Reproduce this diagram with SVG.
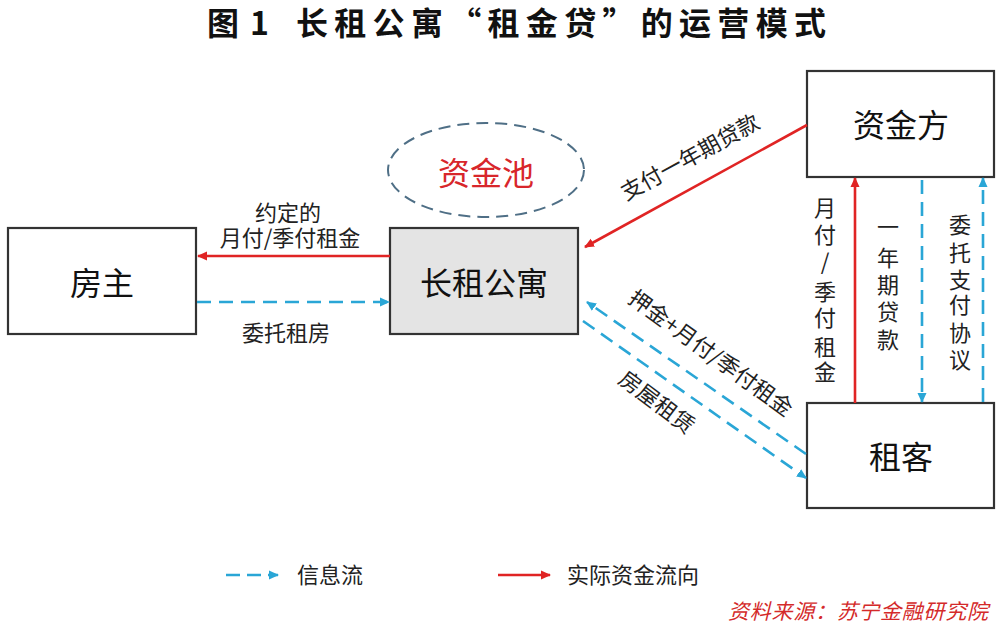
<svg xmlns="http://www.w3.org/2000/svg" width="1000" height="632" viewBox="0 0 1000 632">
<style>
.box{fill:#ffffff;stroke:#333333;stroke-width:2.2}
.gray{fill:#e4e4e4}
.nt{font-family:"Noto Sans CJK SC","Noto Sans CJK JP",sans-serif;font-size:32px;fill:#111;text-anchor:middle;dominant-baseline:central}
.lb{font-family:"Noto Sans CJK SC","Noto Sans CJK JP",sans-serif;font-size:22px;fill:#222;text-anchor:middle}
.red{stroke:#e02424;stroke-width:2.6;fill:none}
.blue{stroke:#2aa6d6;stroke-width:2.6;fill:none;stroke-dasharray:14 8}
</style>
<defs>
<marker id="ar" viewBox="0 0 10 10" refX="9" refY="5" markerWidth="10" markerHeight="10" markerUnits="userSpaceOnUse" orient="auto"><path d="M0,0.5 L10,5 L0,9.5 Z" fill="#e02424"/></marker>
<marker id="ab" viewBox="0 0 10 10" refX="9" refY="5" markerWidth="10" markerHeight="10" markerUnits="userSpaceOnUse" orient="auto"><path d="M0,0.5 L10,5 L0,9.5 Z" fill="#2aa6d6"/></marker>
</defs>
<rect width="1000" height="632" fill="#ffffff"/>
<g id="title" font-family="'Noto Sans CJK SC','Noto Sans CJK JP',sans-serif" font-size="32" font-weight="bold" fill="#111">
<text x="207" y="35">图<tspan x="250">1</tspan></text>
<text x="296" y="35" textLength="530" lengthAdjust="spacing">长租公寓“租金贷”的运营模式</text>
</g>
<g id="pool">
<ellipse cx="486" cy="170" rx="98" ry="47" fill="none" stroke="#4f6f86" stroke-width="2" stroke-dasharray="12 7"/>
<text x="486" y="171" class="nt" style="fill:#d8262b">资金池</text>
</g>
<g id="fangzhu"><rect class="box" x="8" y="228" width="188" height="106"/><text class="nt" x="102" y="281">房主</text></g>
<g id="gongyu"><rect class="box gray" x="390" y="228" width="188" height="106"/><text class="nt" x="484" y="281">长租公寓</text></g>
<g id="zijinfang"><rect class="box" x="807" y="71" width="187" height="106"/><text class="nt" x="901" y="123">资金方</text></g>
<g id="zuke"><rect class="box" x="807" y="403" width="187" height="105"/><text class="nt" x="901" y="455">租客</text></g>
<g id="connectors">
<line class="red" x1="390" y1="256" x2="198" y2="256" marker-end="url(#ar)"/>
<line class="blue" x1="197" y1="302" x2="389" y2="302" marker-end="url(#ab)"/>
<line class="red" x1="807" y1="125" x2="585" y2="247" marker-end="url(#ar)"/>
<line class="blue" x1="806" y1="454" x2="587" y2="302" marker-end="url(#ab)"/>
<line class="blue" x1="583" y1="321" x2="806" y2="478" marker-end="url(#ab)"/>
<line class="red" x1="855" y1="403" x2="855" y2="178" marker-end="url(#ar)"/>
<line class="blue" x1="922" y1="180" x2="922" y2="402" marker-end="url(#ab)"/>
<line class="blue" x1="983" y1="402" x2="983" y2="178" marker-end="url(#ab)"/>
</g>
<g id="labels">
<text class="lb" x="288" y="221">约定的</text>
<text class="lb" x="290" y="246">月付/季付租金</text>
<text class="lb" x="286" y="341">委托租房</text>
<text class="lb" x="0" y="8" transform="translate(690,157) rotate(-28.7)">支付一年期贷款</text>
<text class="lb" x="0" y="8" transform="translate(711,353) rotate(36)">押金+月付/季付租金</text>
<text class="lb" x="0" y="8" transform="translate(657,402) rotate(37)">房屋租赁</text>
<text class="lb"><tspan x="825" y="216">月</tspan><tspan x="825" y="243">付</tspan><tspan x="825" y="270">/</tspan><tspan x="825" y="300">季</tspan><tspan x="825" y="326">付</tspan><tspan x="825" y="355">租</tspan><tspan x="825" y="380">金</tspan></text>
<text class="lb"><tspan x="888" y="235">一</tspan><tspan x="888" y="266">年</tspan><tspan x="888" y="293">期</tspan><tspan x="888" y="320">贷</tspan><tspan x="888" y="348">款</tspan></text>
<text class="lb"><tspan x="960" y="233">委</tspan><tspan x="960" y="261">托</tspan><tspan x="960" y="288">支</tspan><tspan x="960" y="313">付</tspan><tspan x="960" y="341">协</tspan><tspan x="960" y="368">议</tspan></text>
</g>
<g id="legend">
<line class="blue" x1="226" y1="575" x2="278" y2="575" marker-end="url(#ab)" style="stroke-dasharray:14 7"/>
<text class="lb" x="297" y="583" style="text-anchor:start">信息流</text>
<line class="red" x1="498" y1="575" x2="550" y2="575" marker-end="url(#ar)"/>
<text class="lb" x="567" y="583" style="text-anchor:start">实际资金流向</text>
</g>
<text id="source" x="728" y="619" font-family="'Noto Sans CJK SC',sans-serif" font-size="21" font-style="italic" fill="#d42a2a" textLength="260" lengthAdjust="spacing">资料来源：苏宁金融研究院</text>
</svg>
